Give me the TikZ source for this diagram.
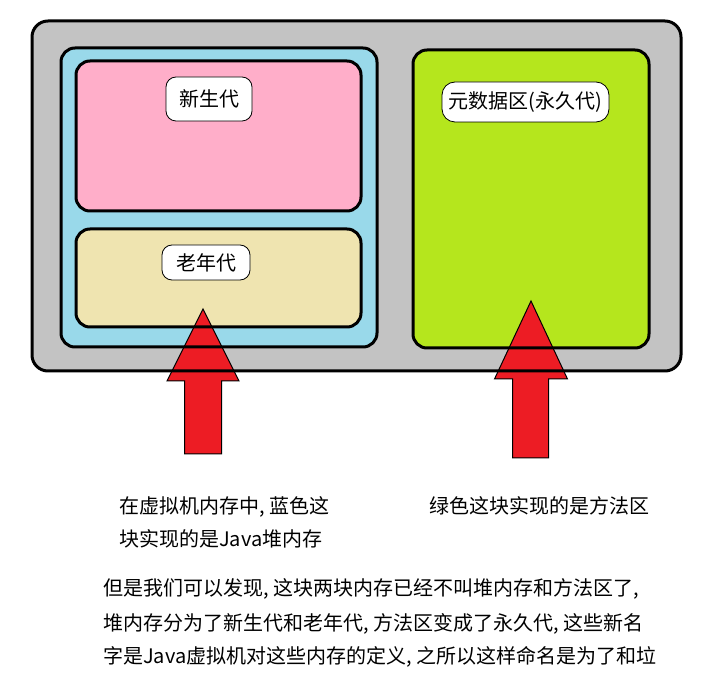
\documentclass[tikz,border=0pt]{standalone}
\usepackage{fontspec}
\setmainfont{Noto Sans CJK SC}
\definecolor{graybg}{HTML}{C3C3C3}
\definecolor{bluebg}{HTML}{99D9EA}
\definecolor{pinkbg}{HTML}{FFAEC9}
\definecolor{tanbg}{HTML}{EFE4B0}
\definecolor{greenbg}{HTML}{B5E61D}
\definecolor{arrowred}{HTML}{ED1C24}
\tikzset{
  areafill/.style={fill=#1, draw=none, inner sep=0pt, outer sep=0pt, rounded corners=14pt},
  areaborder/.style={draw=black, line width=3pt, rounded corners=14pt},
  tag/.style={draw=black, line width=0.8pt, fill=white, rounded corners=10pt, inner sep=0pt,
    font=\fontsize{20}{24}\selectfont},
  bigarrow/.style={fill=arrowred, draw=black, line width=1pt, line join=miter},
  txt/.style={anchor=base west, inner sep=0pt, font=\fontsize{20}{24}\selectfont}
}
\begin{document}
\begin{tikzpicture}[x=1pt,y=-1pt]
\useasboundingbox[fill=white] (0,0) rectangle (724,679);
% fills
\node[areafill=graybg, minimum width=649pt, minimum height=350pt, rounded corners=16pt] (outer) at (356.5,196) {};
\node[areafill=bluebg, minimum width=316pt, minimum height=299pt] (heap) at (219,197.5) {};
\node[areafill=pinkbg, minimum width=285pt, minimum height=150pt] (young) at (218.5,136) {};
\node[areafill=tanbg, minimum width=285pt, minimum height=98pt] (old) at (218.5,278) {};
\node[areafill=greenbg, minimum width=236pt, minimum height=298pt] (meta) at (531,199) {};
% labels
\node[tag, minimum width=86pt, minimum height=44pt] (lyoung) at (209,99) {新生代};
\node[tag, minimum width=88pt, minimum height=35pt] (lold) at (206,262.5) {老年代};
\node[tag, minimum width=167pt, minimum height=40pt, rounded corners=13pt] (lmeta) at (525.5,102) {元数据区(永久代)};
% arrows
\draw[bigarrow] (203,309) -- (239,381) -- (221.5,381) -- (221.5,454) -- (184.5,454) -- (184.5,381) -- (167,381) -- cycle;
\draw[bigarrow] (531,301) -- (567.5,379) -- (548.5,379) -- (548.5,458) -- (512.5,458) -- (512.5,379) -- (494.5,379) -- cycle;
% borders
\draw[areaborder, rounded corners=16pt] (outer.north west) rectangle (outer.south east);
\draw[areaborder] (heap.north west) rectangle (heap.south east);
\draw[areaborder] (young.north west) rectangle (young.south east);
\draw[areaborder] (old.north west) rectangle (old.south east);
\draw[areaborder] (meta.north west) rectangle (meta.south east);
% texts
\node[txt] (capa) at (119,513) {在虚拟机内存中, 蓝色这};
\node[txt] (capb) at (119,546) {块实现的是Java堆内存};
\node[txt] (capc) at (429,513) {绿色这块实现的是方法区};
\node[txt] (bodya) at (103,595) {但是我们可以发现, 这块两块内存已经不叫堆内存和方法区了,};
\node[txt] (bodyb) at (103,630) {堆内存分为了新生代和老年代, 方法区变成了永久代, 这些新名};
\node[txt] (bodyc) at (103,663) {字是Java虚拟机对这些内存的定义, 之所以这样命名是为了和垃};
\end{tikzpicture}
\end{document}
